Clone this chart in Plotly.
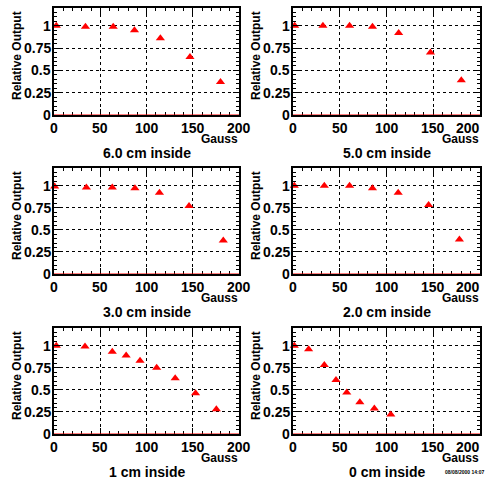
import plotly.graph_objects as go

W, H = 490, 483

titles = ["6.0 cm inside", "5.0 cm inside", "3.0 cm inside", "2.0 cm inside", "1 cm inside", "0 cm inside"]

x_6cm = [2.5, 34, 64, 87, 115, 147, 180]
y_6cm = [1.0, 0.99, 0.99, 0.95, 0.86, 0.65, 0.37]

x_5cm = [1.8, 32, 60.5, 85, 113, 147, 180]
y_5cm = [1.0, 1.0, 1.0, 0.99, 0.92, 0.70, 0.39]

x_3cm = [0.7, 35, 63, 87.5, 114, 146, 183]
y_3cm = [0.99, 0.98, 0.98, 0.97, 0.92, 0.77, 0.38]

x_2cm = [1.4, 33.5, 60.5, 85, 112.5, 145, 178]
y_2cm = [1.0, 1.0, 1.0, 0.97, 0.92, 0.78, 0.39]

x_1cm = [2.5, 33.5, 63, 78, 93, 111, 131, 153, 175.5]
y_1cm = [1.0, 0.99, 0.93, 0.89, 0.83, 0.75, 0.63, 0.46, 0.28]

x_0cm = [1.4, 16.7, 33.5, 46, 57.5, 71.5, 87, 104.6]
y_0cm = [1.0, 0.96, 0.78, 0.61, 0.47, 0.36, 0.29, 0.22]

xs = [x_6cm, x_5cm, x_3cm, x_2cm, x_1cm, x_0cm]
ys = [y_6cm, y_5cm, y_3cm, y_2cm, y_1cm, y_0cm]

x_tickvals = [0, 50, 100, 150, 200]
x_ticktext = ["0", "50", "100", "150", "200"]
y_tickvals = [0, 0.25, 0.5, 0.75, 1]
y_ticktext = ["0", "0.25", "0.5", "0.75", "1"]

date_text = "08/08/2000 14:07"

FONT = "Liberation Sans"

# frame pixel geometry
cols = [(54, 239), (293, 480)]
rows = [(8, 115), (168, 274), (328, 434)]

fig = go.Figure()
annotations = []
shapes = []

def px_x(p):
    return p / W

def px_y(p):
    return 1 - p / H

tickfont = dict(family=FONT, size=14, color="black", weight="bold")

for i in range(6):
    r, c = divmod(i, 2)
    xl, xr = cols[c]
    yt, yb = rows[r]
    n = "" if i == 0 else str(i + 1)
    xa = "x" + n
    ya = "y" + n
    fig.add_trace(go.Scatter(
        x=xs[i], y=ys[i], mode="markers", xaxis=xa, yaxis=ya,
        marker=dict(symbol="triangle-up", color="#ff0000", size=8, line=dict(width=0)),
        showlegend=False, cliponaxis=False,
    ))
    common = dict(
        showline=True, linecolor="black", linewidth=2, mirror="allticks",
        ticks="inside", ticklen=6, tickwidth=1, tickcolor="black",
        showgrid=True, gridcolor="black", griddash="dot", gridwidth=1,
        zeroline=False, automargin=False, showticklabels=False,
    )
    fig.layout["xaxis" + n] = dict(
        common, domain=[px_x(xl), px_x(xr)], range=[0, 200], anchor=ya,
        tickvals=x_tickvals,
        minor=dict(dtick=10, ticks="inside", ticklen=3, tickcolor="black", showgrid=False),
    )
    fig.layout["yaxis" + n] = dict(
        common, domain=[px_y(yb), px_y(yt)], range=[0, 1.2], anchor=xa,
        tickvals=y_tickvals,
        minor=dict(dtick=0.05, ticks="inside", ticklen=3, tickcolor="black", showgrid=False),
    )
    shapes.append(dict(type="line", xref=xa + " domain", yref=ya, x0=0, x1=1, y0=0, y1=0,
                       line=dict(color="#ff0000", width=1), layer="above"))
    # x tick labels
    for k, (tv, tt) in enumerate(zip(x_tickvals, x_ticktext)):
        shift = -12 if (c == 1 and k == len(x_tickvals) - 1) else 0
        annotations.append(dict(
            text=tt, x=tv, xref=xa, y=px_y(yb + 13), yref="paper",
            xanchor="center", yanchor="middle", xshift=shift, showarrow=False,
            font=tickfont, borderpad=0,
        ))
    # y tick labels
    for tv, tt in zip(y_tickvals, y_ticktext):
        annotations.append(dict(
            text=tt, x=px_x(xl - 2), xref="paper", y=tv, yref=ya,
            xanchor="right", yanchor="middle", showarrow=False,
            font=tickfont, borderpad=0,
        ))
    annotations.append(dict(
        text="Relative Output", textangle=-90, x=px_x(xl - 37), y=px_y(yt + 48),
        xref="paper", yref="paper", xanchor="center", yanchor="middle", showarrow=False,
        font=dict(family=FONT, size=12, color="black", weight="bold"), borderpad=0,
    ))
    annotations.append(dict(
        text="Gauss", x=px_x(xr), y=px_y(yb + 24), xref="paper", yref="paper",
        xanchor="right", yanchor="middle", showarrow=False,
        font=dict(family=FONT, size=12, color="black", weight="bold"), borderpad=0,
    ))
    annotations.append(dict(
        text=titles[i], x=px_x((xl + xr) / 2), y=px_y(yb + 38), xref="paper", yref="paper",
        xanchor="center", yanchor="middle", showarrow=False,
        font=dict(family=FONT, size=14, color="black", weight="bold"), borderpad=0,
    ))

annotations.append(dict(
    text=date_text, x=px_x(464), y=px_y(472), xref="paper", yref="paper",
    xanchor="center", yanchor="middle", showarrow=False,
    font=dict(family=FONT, size=5, color="black", weight="bold"),
))

fig.update_layout(
    width=W, height=H, autosize=False,
    margin=dict(l=0, r=0, t=0, b=0, autoexpand=False),
    paper_bgcolor="white", plot_bgcolor="white",
    annotations=annotations, shapes=shapes,
    showlegend=False,
)

fig.write_html("out.html")
